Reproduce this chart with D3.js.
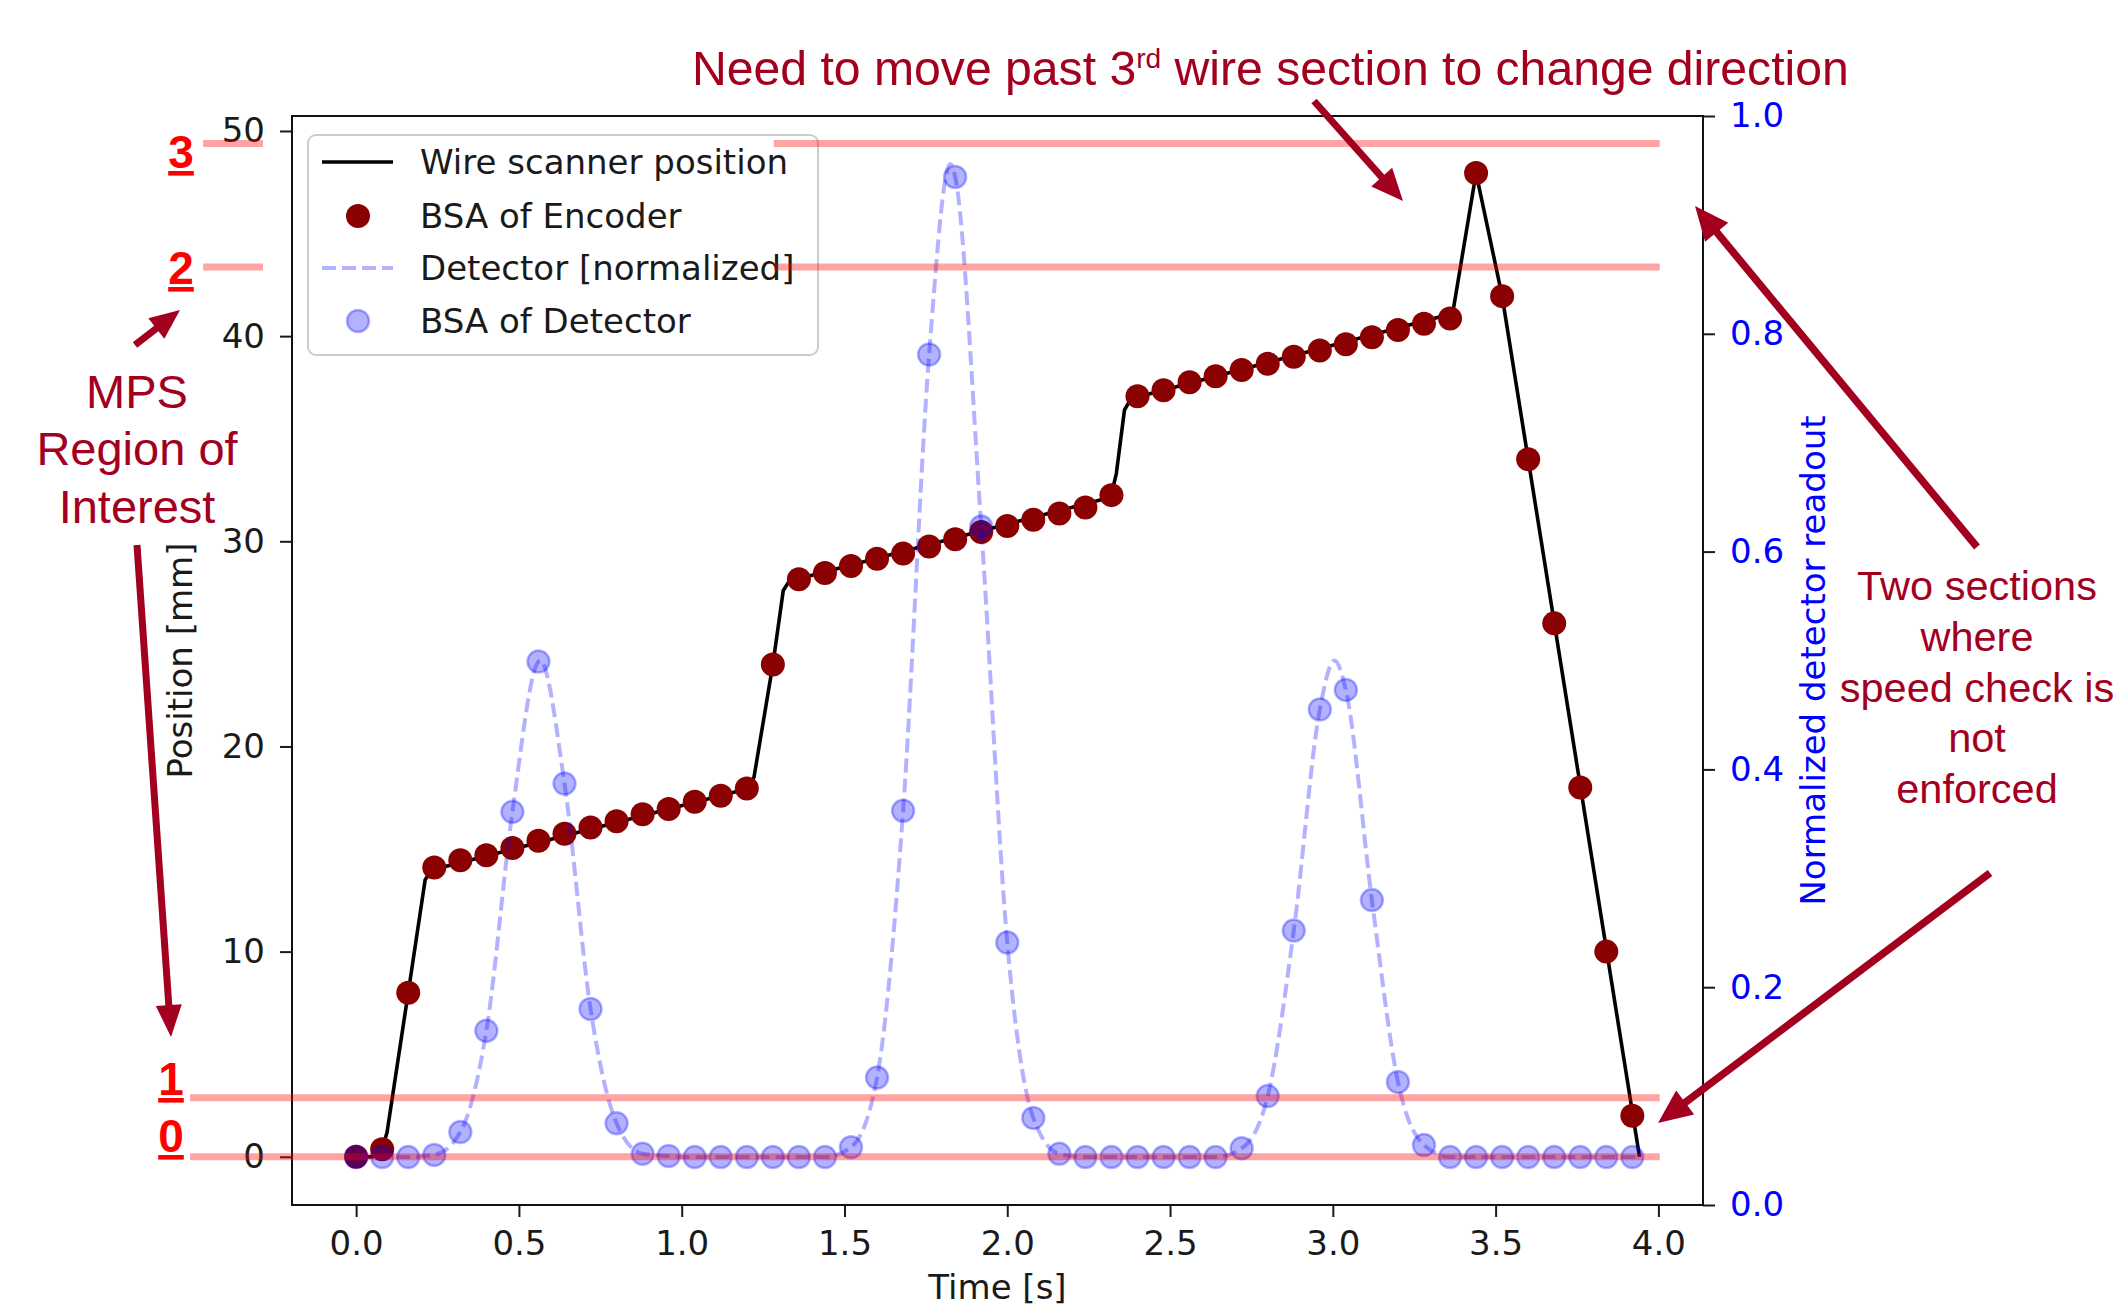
<!DOCTYPE html>
<html>
<head>
<meta charset="utf-8">
<title>Wire scanner position and detector readout</title>
<script src="https://cdn.jsdelivr.net/npm/d3@7"></script>
<style>
  body { margin: 0; background: #fff; }
  svg { display: block; font-family: "DejaVu Sans", sans-serif; }
  .axis text { font-family: "DejaVu Sans", sans-serif; font-size: 34px; fill: #1a1a1a; }
  .axis line { stroke: #1a1a1a; stroke-width: 2px; }
  .note { font-family: "Liberation Sans", Arial, sans-serif; fill: #a3001f; }
  .level { font-family: "Liberation Sans", Arial, sans-serif; font-weight: bold; fill: #ff0000; text-decoration: underline; }
</style>
</head>
<body>
<svg width="2124" height="1308"></svg>
<script>
// sample times of the BSA acquisitions [s]
const times = [0.00, 0.08, 0.16, 0.24, 0.32, 0.40, 0.48, 0.56, 0.64, 0.72,
               0.80, 0.88, 0.96, 1.04, 1.12, 1.20, 1.28, 1.36, 1.44, 1.52,
               1.60, 1.68, 1.76, 1.84, 1.92, 2.00, 2.08, 2.16, 2.24, 2.32,
               2.40, 2.48, 2.56, 2.64, 2.72, 2.80, 2.88, 2.96, 3.04, 3.12,
               3.20, 3.28, 3.36, 3.44, 3.52, 3.60, 3.68, 3.76, 3.84, 3.92];

// BSA of encoder [mm]
const encoder = [0.0, 0.37, 8.0, 14.1, 14.45, 14.7, 15.05, 15.4, 15.75, 16.05,
                 16.35, 16.7, 16.95, 17.3, 17.6, 17.95, 24.0, 28.15, 28.45, 28.8,
                 29.15, 29.4, 29.75, 30.1, 30.45, 30.75, 31.05, 31.35, 31.65, 32.25,
                 37.07, 37.36, 37.75, 38.05, 38.35, 38.65, 39.0, 39.3, 39.6, 39.95,
                 40.3, 40.6, 40.86, 47.95, 41.95, 34.0, 26.0, 18.0, 10.0, 2.0];

// BSA of detector [normalized]
const detector = [0.044, 0.044, 0.044, 0.046, 0.067, 0.160, 0.361, 0.499, 0.387, 0.180,
                  0.075, 0.047, 0.045, 0.044, 0.044, 0.044, 0.044, 0.044, 0.044, 0.053,
                  0.117, 0.362, 0.781, 0.944, 0.623, 0.241, 0.080, 0.047, 0.044, 0.044,
                  0.044, 0.044, 0.044, 0.044, 0.052, 0.100, 0.252, 0.455, 0.473, 0.280,
                  0.113, 0.055, 0.044, 0.044, 0.044, 0.044, 0.044, 0.044, 0.044, 0.044];

// extra vertices of the continuous detector trace (peaks and end)
const detExtraT = [0.565, 1.825, 3.005, 3.942];
const detExtraV = [0.50, 0.956, 0.50, 0.044];

// continuous wire scanner position (corners of the trace)
const wireT = [0, 0.05, 0.08, 0.095, 0.16, 0.212, 0.232, 1.205, 1.222, 1.28, 1.312, 1.33,
               2.318, 2.335, 2.36, 2.38, 3.368, 3.44, 3.52, 3.942];
const wireP = [0, 0, 0.37, 1.2, 8.0, 13.5, 13.98, 17.95, 18.5, 24.0, 27.6, 28.05,
               32.15, 33.3, 36.4, 36.95, 41.1, 47.95, 41.95, 0];

// wire section thresholds [mm]
const sectionLabels = ["0", "1", "2", "3"];
const sectionLevels = [0, 2.88, 43.37, 49.39];

const xTicks = [0, 0.5, 1.0, 1.5, 2.0, 2.5, 3.0, 3.5, 4.0];
const yTicks = [0, 10, 20, 30, 40, 50];
const y2Ticks = [0, 0.2, 0.4, 0.6, 0.8, 1.0];

const plotL = 292, plotR = 1703, plotT = 116, plotB = 1205;
const svg = d3.select("svg");
svg.append("rect").attr("width", 2124).attr("height", 1308).attr("fill", "#fff");

const x = d3.scaleLinear().domain([-0.197, 4.137]).range([plotL, plotR]);
const y = d3.scaleLinear().domain([-2.35, 50.73]).range([plotB, plotT]);
const y2 = d3.scaleLinear().domain([0, 1]).range([plotB, plotT]);

svg.append("clipPath").attr("id", "plot")
  .append("rect").attr("x", plotL).attr("y", plotT)
  .attr("width", plotR - plotL).attr("height", plotB - plotT);

// axes
svg.append("g").attr("class", "axis")
  .attr("transform", `translate(0,${plotB})`)
  .call(d3.axisBottom(x).tickValues(xTicks).tickFormat(d3.format(".1f"))
    .tickSize(12).tickPadding(14).tickSizeOuter(0))
  .call(g => g.select(".domain").remove());

svg.append("g").attr("class", "axis")
  .attr("transform", `translate(${plotL},0)`)
  .call(d3.axisLeft(y).tickValues(yTicks).tickFormat(d3.format("d"))
    .tickSize(12).tickPadding(15).tickSizeOuter(0))
  .call(g => g.select(".domain").remove());

svg.append("g").attr("class", "axis")
  .attr("transform", `translate(${plotR},0)`)
  .call(d3.axisRight(y2).tickValues(y2Ticks).tickFormat(d3.format(".1f"))
    .tickSize(12).tickPadding(15).tickSizeOuter(0))
  .call(g => g.select(".domain").remove())
  .call(g => g.selectAll("text").style("fill", "#0000ff"));

svg.append("rect")
  .attr("x", plotL).attr("y", plotT)
  .attr("width", plotR - plotL).attr("height", plotB - plotT)
  .attr("fill", "none").attr("stroke", "#111").attr("stroke-width", 2);

svg.append("text")
  .attr("x", (plotL + plotR) / 2).attr("y", 1299)
  .attr("text-anchor", "middle").style("font-size", "34px").attr("fill", "#1a1a1a")
  .text("Time [s]");

svg.append("text")
  .attr("transform", `translate(192,${(plotT + plotB) / 2}) rotate(-90)`)
  .attr("text-anchor", "middle").style("font-size", "34px").attr("fill", "#1a1a1a")
  .text("Position [mm]");

svg.append("text")
  .attr("transform", `translate(1825,${(plotT + plotB) / 2}) rotate(-90)`)
  .attr("text-anchor", "middle").style("font-size", "34px").attr("fill", "#0000ff")
  .text("Normalized detector readout");

// data
const plot = svg.append("g").attr("clip-path", "url(#plot)");

const wire = wireT.map((t, i) => ({ t, p: wireP[i] }));
plot.append("path")
  .datum(wire)
  .attr("d", d3.line().x(d => x(d.t)).y(d => y(d.p)))
  .attr("fill", "none").attr("stroke", "#000").attr("stroke-width", 3.6)
  .attr("stroke-linejoin", "round");

plot.selectAll(".enc")
  .data(times.map((t, i) => ({ t, p: encoder[i] })))
  .join("circle")
  .attr("class", "enc")
  .attr("cx", d => x(d.t)).attr("cy", d => y(d.p)).attr("r", 12)
  .attr("fill", "#8b0000");

const detLine = times.map((t, i) => ({ t, v: detector[i] }))
  .concat(detExtraT.map((t, i) => ({ t, v: detExtraV[i] })))
  .sort((a, b) => a.t - b.t);

plot.append("path")
  .datum(detLine)
  .attr("d", d3.line().x(d => x(d.t)).y(d => y2(d.v)).curve(d3.curveMonotoneX))
  .attr("fill", "none").attr("stroke", "rgba(0,0,255,0.3)").attr("stroke-width", 4)
  .attr("stroke-dasharray", "14,6");

plot.selectAll(".det")
  .data(times.map((t, i) => ({ t, v: detector[i] })))
  .join("circle")
  .attr("class", "det")
  .attr("cx", d => x(d.t)).attr("cy", d => y2(d.v)).attr("r", 11)
  .attr("fill", "rgba(0,0,255,0.3)")
  .attr("stroke", "rgba(0,0,255,0.3)").attr("stroke-width", 2.5);

// legend
const legend = svg.append("g");
legend.append("rect")
  .attr("x", 308).attr("y", 135).attr("width", 510).attr("height", 220).attr("rx", 8)
  .attr("fill", "#fff").attr("fill-opacity", 0.8)
  .attr("stroke", "#cccccc").attr("stroke-width", 2);

const items = [
  { name: "Wire scanner position", kind: "line" },
  { name: "BSA of Encoder", kind: "enc" },
  { name: "Detector [normalized]", kind: "dash" },
  { name: "BSA of Detector", kind: "det" }
];
const rowY = [162, 216, 268, 321];
items.forEach((it, i) => {
  const row = legend.append("g").attr("transform", `translate(0,${rowY[i]})`);
  if (it.kind === "line") {
    row.append("line").attr("x1", 322).attr("x2", 393)
      .attr("stroke", "#000").attr("stroke-width", 3.6);
  } else if (it.kind === "dash") {
    row.append("line").attr("x1", 322).attr("x2", 393)
      .attr("stroke", "rgba(0,0,255,0.3)").attr("stroke-width", 4)
      .attr("stroke-dasharray", "14,6");
  } else if (it.kind === "enc") {
    row.append("circle").attr("cx", 358).attr("r", 12).attr("fill", "#8b0000");
  } else {
    row.append("circle").attr("cx", 358).attr("r", 11)
      .attr("fill", "rgba(0,0,255,0.3)")
      .attr("stroke", "rgba(0,0,255,0.3)").attr("stroke-width", 2.5);
  }
  row.append("text").attr("x", 420).attr("dy", "0.36em")
    .style("font-size", "34px").attr("fill", "#1a1a1a")
    .text(it.name);
});

// section threshold overlays
const overlay = svg.append("g").attr("stroke", "#ff0000").attr("stroke-opacity", 0.36)
  .attr("stroke-width", 7);
const segStart = [-0.51, -0.51, 1.283, 1.283];
const segEnd = 4.004;
sectionLevels.forEach((lv, i) => {
  overlay.append("line")
    .attr("x1", x(segStart[i])).attr("x2", x(segEnd))
    .attr("y1", y(lv)).attr("y2", y(lv));
  if (i >= 2) {
    overlay.append("line")
      .attr("x1", x(-0.47)).attr("x2", x(-0.286))
      .attr("y1", y(lv)).attr("y2", y(lv));
  }
});

const labelPos = [[171, 1152], [171, 1095], [181, 284], [181, 168]];
sectionLabels.forEach((s, i) => {
  svg.append("text").attr("class", "level")
    .attr("x", labelPos[i][0]).attr("y", labelPos[i][1])
    .attr("text-anchor", "middle").style("font-size", "46px")
    .text(s);
});

// annotations
const notes = svg.append("g");

const title = notes.append("text").attr("class", "note")
  .attr("x", 0).attr("y", 85).style("font-size", "48px");
title.append("tspan").text("Need to move past 3");
title.append("tspan").attr("dy", -17).style("font-size", "28px").text("rd");
title.append("tspan").attr("dy", 17).text(" wire section to change direction");
const tb = title.node().getBBox();
const sx = (1849 - 692) / tb.width;
title.attr("transform", `translate(${692 - tb.x * sx},0) scale(${sx},1)`);

function block(lines, cx, y0, step, size) {
  lines.forEach((l, i) => {
    notes.append("text").attr("class", "note")
      .attr("x", cx).attr("y", y0 + i * step)
      .attr("text-anchor", "middle").style("font-size", size + "px")
      .text(l);
  });
}
block(["MPS", "Region of", "Interest"], 137, 408, 57.3, 47);
block(["Two sections", "where", "speed check is", "not", "enforced"], 1977, 600, 50.8, 41.5);

function arrow(a, b, w, L, W) {
  const ang = Math.atan2(b[1] - a[1], b[0] - a[0]);
  const bx = b[0] - L * Math.cos(ang), by = b[1] - L * Math.sin(ang);
  const nx = Math.sin(ang), ny = -Math.cos(ang);
  notes.append("line")
    .attr("x1", a[0]).attr("y1", a[1]).attr("x2", bx + 2 * Math.cos(ang)).attr("y2", by + 2 * Math.sin(ang))
    .attr("stroke", "#a3001f").attr("stroke-width", w);
  notes.append("path")
    .attr("d", `M${b[0]},${b[1]}L${bx + W * nx},${by + W * ny}L${bx - W * nx},${by - W * ny}Z`)
    .attr("fill", "#a3001f");
}
arrow([1314, 101], [1403, 201], 7, 32, 14);
arrow([1977, 547], [1695, 206], 7.5, 34, 15);
arrow([1990, 873], [1658, 1123], 7.5, 34, 15);
arrow([135, 345], [180, 310], 7, 30, 13);
arrow([137, 545], [171, 1037], 7, 32, 13);
</script>
</body>
</html>
